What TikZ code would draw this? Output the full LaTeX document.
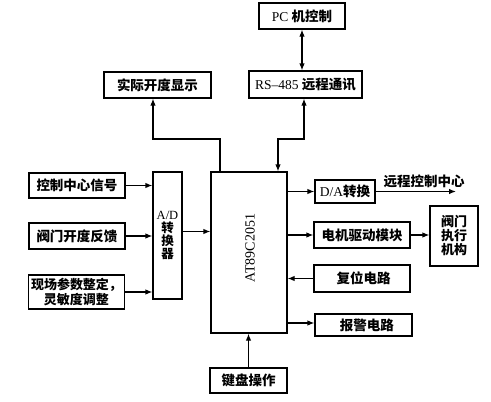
\documentclass[tikz,border=0pt]{standalone}
\usepackage{fontspec}
\setmainfont{Liberation Serif}
\newfontfamily\cjkf{Noto Sans CJK SC}
\newcommand{\zh}[1]{{\cjkf\bfseries #1}}
\usetikzlibrary{arrows.meta}
\begin{document}
\begin{tikzpicture}[x=1pt,y=-1pt,
  box/.style={draw, line width=1.2pt, inner sep=0pt, align=center,
    font=\fontsize{13.5pt}{15pt}\selectfont},
  arr/.style={line width=1.2pt, -{Latex[length=7pt,width=5.5pt]}},
  darr/.style={line width=1.2pt, {Latex[length=7pt,width=5.5pt]}-{Latex[length=7pt,width=5.5pt]}}]
\useasboundingbox (0,0) rectangle (491,402);

% top boxes
\node[box, minimum width=86pt, minimum height=26pt] (pc) at (302,16) {PC \zh{机控制}};
\node[box, minimum width=113pt, minimum height=27pt] (rs) at (305.5,84.5) {RS--485 \zh{远程通讯}};
\node[box, minimum width=107pt, minimum height=26pt] (disp) at (157.5,85) {\zh{实际开度显示}};

% inputs
\node[box, minimum width=96pt, minimum height=25pt] (in1) at (77,185.5) {\zh{控制中心信号}};
\node[box, minimum width=96pt, minimum height=26pt] (in2) at (77,236) {\zh{阀门开度反馈}};
\node[box, minimum width=96pt, minimum height=34pt,
  font=\fontsize{13pt}{14.5pt}\selectfont] (in3) at (76.5,292) {\zh{现场参数整定，}\\\zh{灵敏度调整}};

% A/D
\node[box, minimum width=29pt, minimum height=127pt,
  font=\fontsize{12.5pt}{12.8pt}\selectfont] (ad) at (167.5,235.5) {A/D\\\zh{转}\\\zh{换}\\\zh{器}};

% MCU
\node[box, minimum width=76pt, minimum height=161pt] (mcu) at (249,252.5) {};
\node[font=\fontsize{14pt}{16pt}\selectfont, rotate=90, inner sep=0pt] (mcutext) at (250,248) {AT89C2051};

% right side
\node[box, minimum width=60pt, minimum height=23pt] (da) at (345,191.5) {D/A\zh{转换}};
\node[box, minimum width=96pt, minimum height=26pt] (motor) at (362,235) {\zh{电机驱动模块}};
\node[box, minimum width=48pt, minimum height=60pt,
  font=\fontsize{13pt}{14pt}\selectfont] (valve) at (454,236) {\zh{阀门}\\\zh{执行}\\\zh{机构}};
\node[box, minimum width=96pt, minimum height=27pt] (reset) at (362,278.5) {\ \zh{复位电路}};
\node[box, minimum width=97pt, minimum height=22pt] (alarm) at (363.5,325) {\ \ \zh{报警电路}};
\node[box, minimum width=77pt, minimum height=25pt] (kbd) at (248.5,380.5) {\zh{键盘操作}};

\node[inner sep=0pt, font=\fontsize{13.5pt}{15pt}\selectfont] (rclabel) at (424,181) {\zh{远程控制中心}};
\coordinate (rc) at (456,191.5);

% bends
\coordinate (b1) at (220,139);
\coordinate (b2) at (153,139);
\coordinate (b3) at (304,139);
\coordinate (b4) at (278,139);

% connectors
\draw[darr] (pc.south) -- (pc.south |- rs.north);
\draw[arr] (mcu.north -| b1) -- (b1) -- (b2) -- (b2 |- disp.south);
\draw[darr] (rs.south -| b3) -- (b3) -- (b4) -- (b4 |- mcu.north);

\draw[arr] (in1.east) -- (in1.east -| ad.west);
\draw[arr] (in2.east) -- (in2.east -| ad.west);
\draw[arr] (in3.east) -- (in3.east -| ad.west);
\draw[arr] ([yshift=4pt]ad.east) -- ([yshift=4pt]ad.east -| mcu.west);

\draw[arr] (da.west -| mcu.east) -- (da.west);
\draw[arr] (da.east) -- (rc);
\draw[arr] (motor.west -| mcu.east) -- (motor.west);
\draw[arr] (motor.east) -- (motor.east -| valve.west);
\draw[arr] (reset.west) -- (reset.west -| mcu.east);
\draw[arr] ([yshift=2pt]alarm.west -| mcu.east) -- ([yshift=2pt]alarm.west);
\draw[arr] (kbd.north) -- (kbd.north |- mcu.south);
\end{tikzpicture}
\end{document}
